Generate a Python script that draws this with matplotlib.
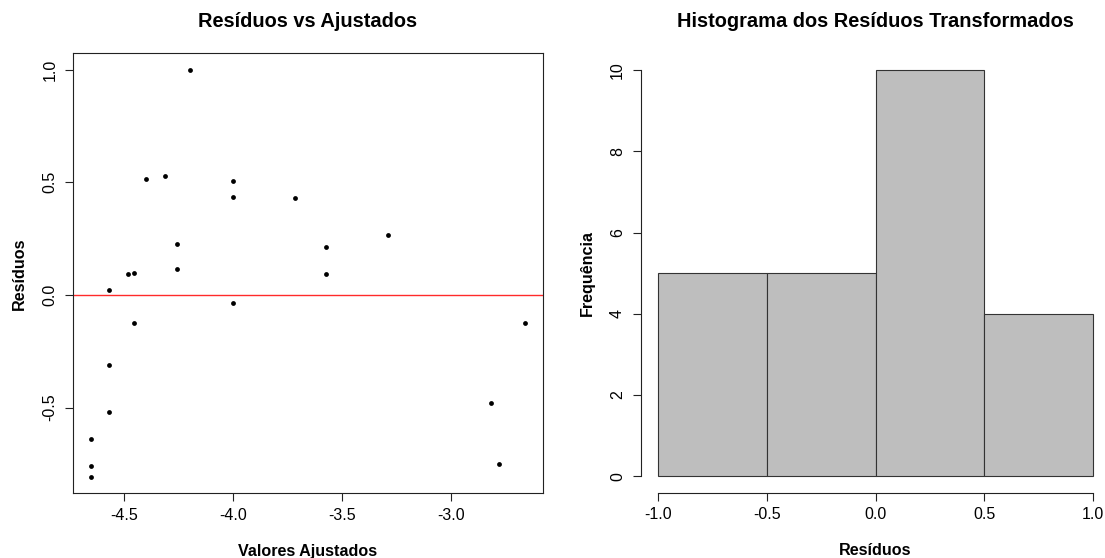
import numpy as np
import matplotlib
matplotlib.use("Agg")
import matplotlib.pyplot as plt
from matplotlib.ticker import FormatStrFormatter

plt.rcParams['font.family'] = ['Liberation Sans', 'DejaVu Sans']
plt.rcParams['axes.unicode_minus'] = False

# Fitted values and residuals
ajustados = [-4.655, -4.655, -4.655, -4.570, -4.570, -4.570, -4.483, -4.455,
             -4.455, -4.399, -4.313, -4.258, -4.258, -4.199, -4.000, -4.000,
             -4.000, -3.718, -3.577, -3.577, -3.289, -2.820, -2.781, -2.661]
residuos = [-0.641, -0.757, -0.808, 0.022, -0.313, -0.520, 0.093, 0.099,
            -0.123, 0.513, 0.528, 0.226, 0.115, 1.000, 0.507, 0.436,
            -0.037, 0.429, 0.211, 0.093, 0.266, -0.479, -0.752, -0.126]

hist_breaks = [-1.0, -0.5, 0.0, 0.5, 1.0]
x_ticks_left = [-4.5, -4.0, -3.5, -3.0]
y_ticks_left = [-0.5, 0.0, 0.5, 1.0]
y_ticks_hist = [0, 2, 4, 6, 8, 10]

W, H = 1105, 558
line_col = '#222222'
fig = plt.figure(figsize=(W / 100, H / 100), dpi=100)

def px_axes(x0, y0, x1, y1):
    return fig.add_axes([x0 / W, (H - y1) / H, (x1 - x0) / W, (y1 - y0) / H])

def r_ticks(ax):
    ax.tick_params(axis='both', direction='out', length=5.5, width=0.8,
                   color=line_col, labelsize=11.5, labelcolor='black')
    ax.tick_params(axis='x', pad=5)
    ax.tick_params(axis='y', pad=6)
    for lab in ax.get_yticklabels():
        lab.set_rotation(90)
        lab.set_va('center')

# ---- left: residuals vs fitted ----
ax1 = px_axes(73.3, 53.3, 542.7, 493.3)
ax1.scatter(ajustados, residuos, s=12, color='black', linewidths=0, zorder=3)
ax1.axhline(0, color='#FF2A2A', lw=1.0, zorder=2)
xr = max(ajustados) - min(ajustados)
yr = max(residuos) - min(residuos)
ax1.set_xlim(min(ajustados) - 0.04 * xr, max(ajustados) + 0.04 * xr)
ax1.set_ylim(min(residuos) - 0.04 * yr, max(residuos) + 0.04 * yr)
ax1.set_xticks(x_ticks_left)
ax1.set_yticks(y_ticks_left)
ax1.xaxis.set_major_formatter(FormatStrFormatter('%.1f'))
ax1.yaxis.set_major_formatter(FormatStrFormatter('%.1f'))
for sp in ax1.spines.values():
    sp.set_color(line_col)
    sp.set_linewidth(0.8)
r_ticks(ax1)
ax1.set_title('Resíduos vs Ajustados', fontsize=14.4, fontweight='bold', pad=19)
ax1.set_xlabel('Valores Ajustados', fontsize=11.6, fontweight='bold', labelpad=15)
ax1.set_ylabel('Resíduos', fontsize=11.6, fontweight='bold', labelpad=11)

# ---- right: histogram ----
ax2 = px_axes(641, 53.8, 1110, 492.5)
ax2.hist(residuos, bins=hist_breaks, color='#BEBEBE', edgecolor='#333333', linewidth=0.8)
ax2.set_xlim(hist_breaks[0] - 0.08, hist_breaks[-1] + 0.08)
ax2.set_ylim(-0.4, 10.4)
ax2.set_xticks(hist_breaks)
ax2.set_yticks(y_ticks_hist)
ax2.xaxis.set_major_formatter(FormatStrFormatter('%.1f'))
ax2.spines['top'].set_visible(False)
ax2.spines['right'].set_visible(False)
ax2.spines['left'].set_bounds(0, 10)
ax2.spines['bottom'].set_bounds(-1, 1)
for sp in ('left', 'bottom'):
    ax2.spines[sp].set_color(line_col)
    ax2.spines[sp].set_linewidth(0.8)
r_ticks(ax2)
ax2.set_title('Histograma dos Resíduos Transformados', fontsize=14.4, fontweight='bold', pad=19)
ax2.set_xlabel('Resíduos', fontsize=11.6, fontweight='bold', labelpad=15)
ax2.set_ylabel('Frequência', fontsize=11.6, fontweight='bold', labelpad=11)

fig.savefig('out.png', dpi=100)
